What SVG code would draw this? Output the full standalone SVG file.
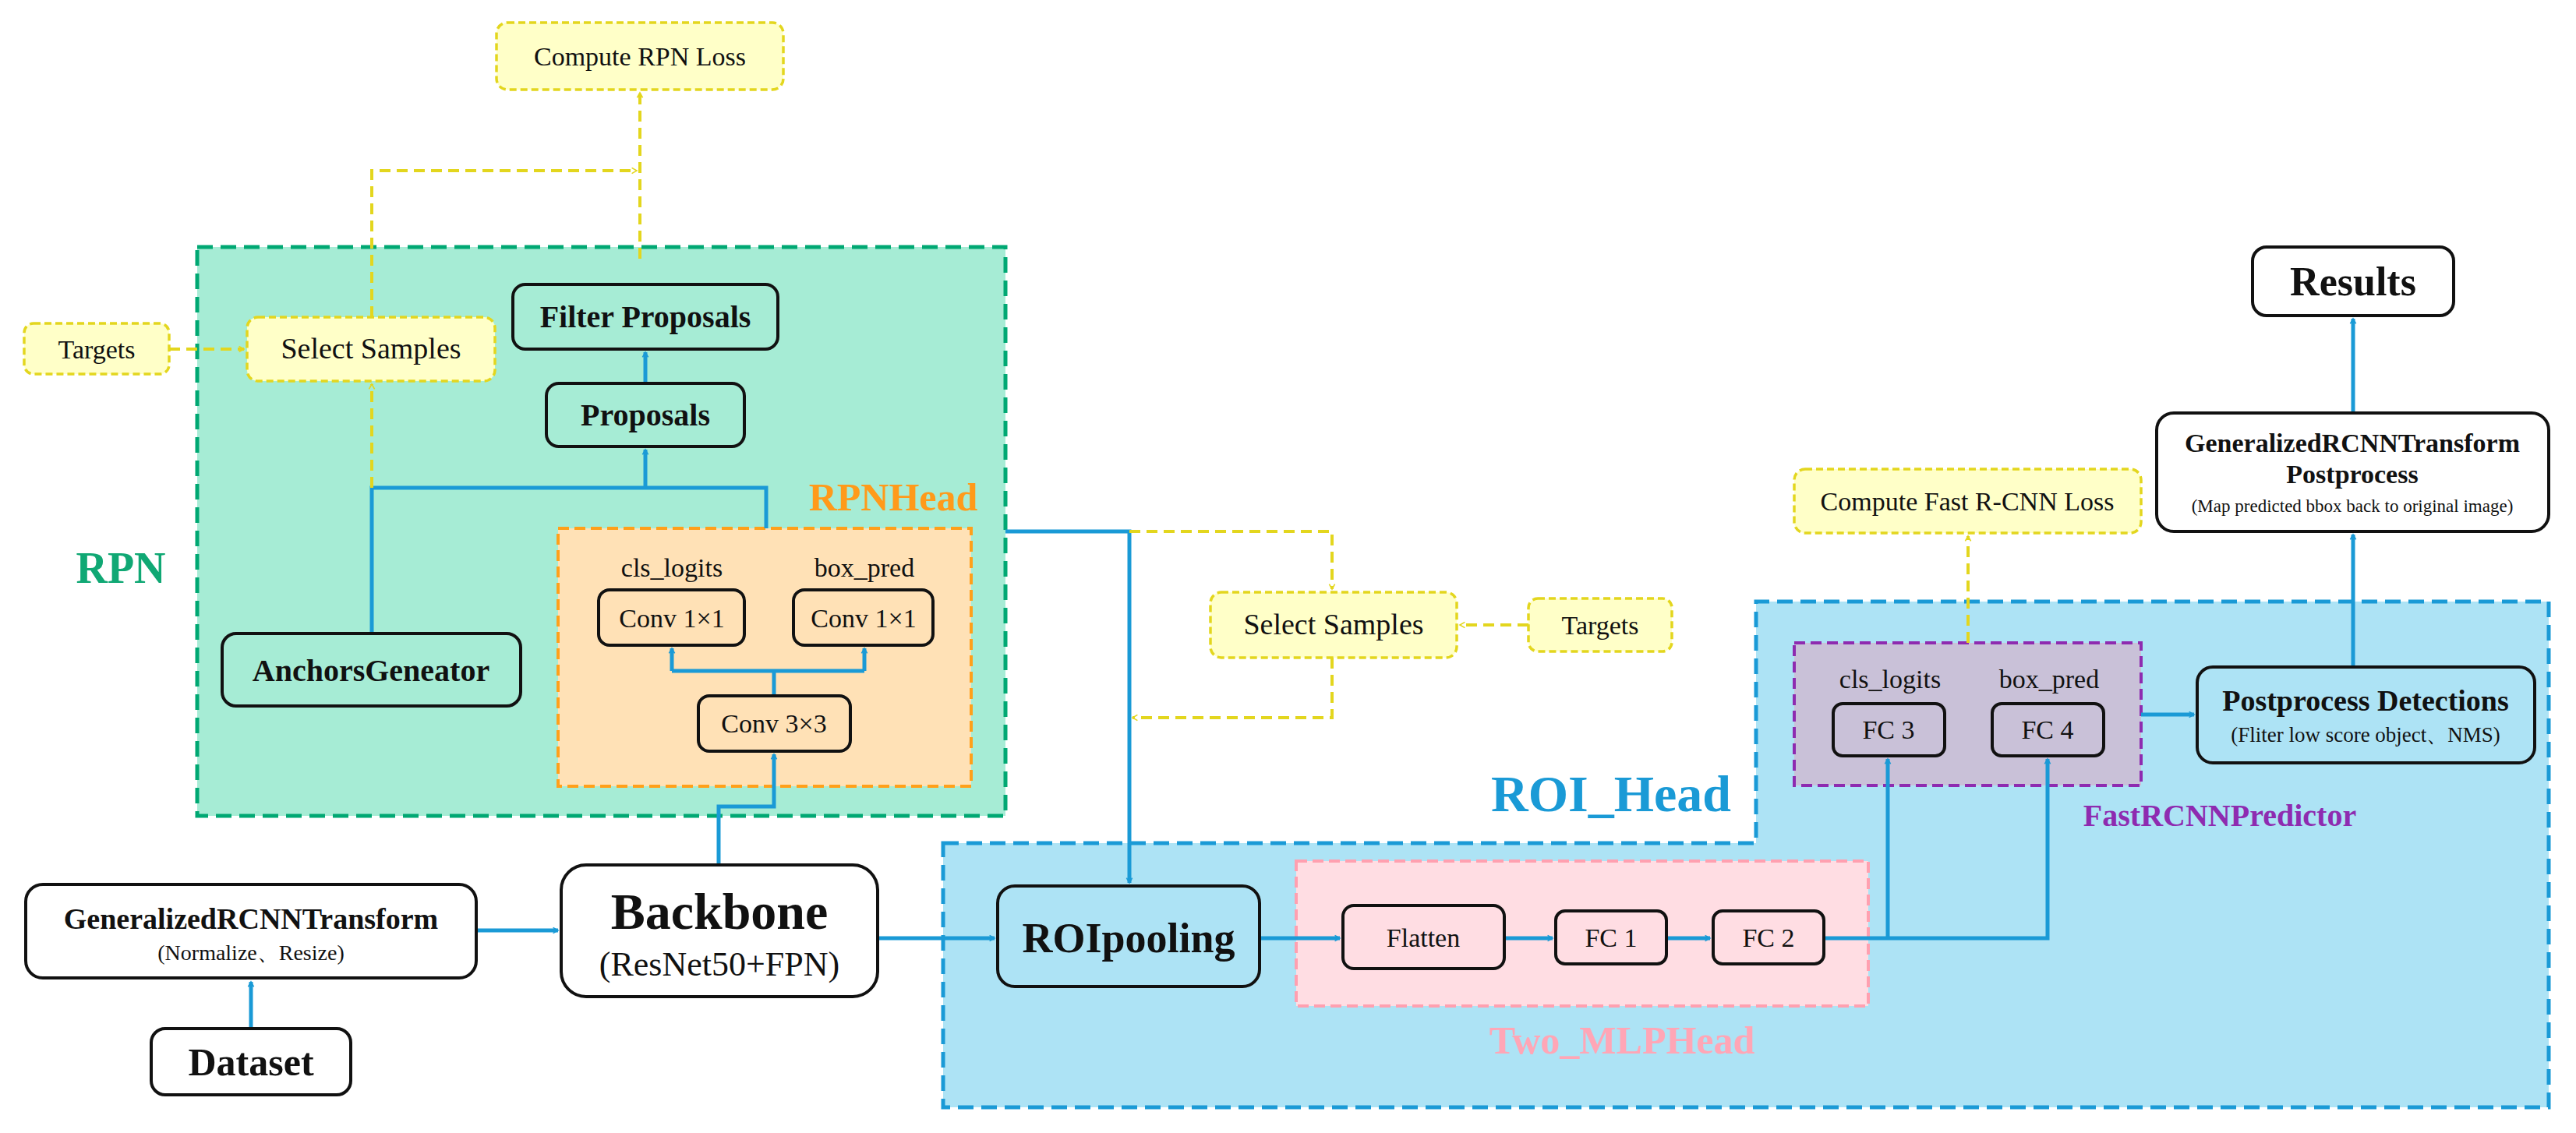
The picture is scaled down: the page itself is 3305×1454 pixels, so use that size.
<svg xmlns="http://www.w3.org/2000/svg" width="3305" height="1454" viewBox="0 0 3305 1454">
<style>
text{font-family:"Liberation Serif","Times New Roman",serif;fill:#111;text-anchor:middle}
.b{font-weight:bold}
.n{fill:none;stroke:#111;stroke-width:4}
.y{fill:#ffffc8;stroke:#e3d61e;stroke-width:3.5;stroke-dasharray:9 5}
.bl{fill:none;stroke:#1a9ad6;stroke-width:5}
.yl{fill:none;stroke:#e3d61e;stroke-width:4;stroke-dasharray:14 8}
</style>
<defs>
<marker id="ab" viewBox="0 0 20 20" refX="18" refY="10" markerWidth="8" markerHeight="8" markerUnits="userSpaceOnUse" orient="auto" style="overflow:visible">
<path d="M2 1 L18 10 L2 19" fill="none" stroke="#1a9ad6" stroke-width="4"/>
</marker>
<marker id="ay" viewBox="0 0 20 20" refX="18" refY="10" markerWidth="8" markerHeight="8" markerUnits="userSpaceOnUse" orient="auto" style="overflow:visible">
<path d="M2 1 L18 10 L2 19" fill="none" stroke="#e3d61e" stroke-width="4"/>
</marker>
</defs>
<!-- containers -->
<g id="rpn">
<rect x="253" y="317" width="1037" height="730" fill="#a6ecd5" stroke="#00a873" stroke-width="5" stroke-dasharray="20 10"/>
<text x="155" y="748" font-size="56" class="b" style="fill:#10a874">RPN</text>
</g>
<g id="rpnhead">
<rect x="716" y="678" width="530" height="331" fill="#ffe1b6" stroke="#ffa01a" stroke-width="4" stroke-dasharray="14 7"/>
<text x="1146" y="655" font-size="50" class="b" style="fill:#ff9a1a">RPNHead</text>
</g>
<g id="roihead">
<path d="M1210 1082 H2253 V772 H3270 V1421 H1210 Z" fill="#ade3f5" stroke="#1a9ad6" stroke-width="5" stroke-dasharray="20 10"/>
<text x="2067" y="1041" font-size="66" class="b" style="fill:#1a9ad6">ROI_Head</text>
</g>
<g id="twomlp">
<rect x="1663" y="1105" width="734" height="186" fill="#ffdde3" stroke="#ffa0b0" stroke-width="4" stroke-dasharray="14 7"/>
<text x="2081" y="1352" font-size="50" class="b" style="fill:#ffa6b6">Two_MLPHead</text>
</g>
<g id="fastrcnn">
<rect x="2302" y="825" width="445" height="183" fill="#c9c1d8" stroke="#8e2bb0" stroke-width="4" stroke-dasharray="14 7"/>
<text x="2848" y="1060" font-size="40" class="b" style="fill:#8e2bb0">FastRCNNPredictor</text>
</g>
<!-- connectors -->
<g id="connectors">
<path class="bl" d="M322 1320 V1260" marker-end="url(#ab)"/>
<path class="bl" d="M611 1194 H716" marker-end="url(#ab)"/>
<path class="bl" d="M922 1110 V1035 H993 V968" marker-end="url(#ab)"/>
<path class="bl" d="M993 893 V861 M862 861 H1109"/>
<path class="bl" d="M862 861 V832" marker-end="url(#ab)"/>
<path class="bl" d="M1109 861 V832" marker-end="url(#ab)"/>
<path class="bl" d="M477 813 V626 H983 V678"/>
<path class="bl" d="M828 626 V577" marker-end="url(#ab)"/>
<path class="bl" d="M828 492 V452" marker-end="url(#ab)"/>
<path class="yl" d="M477 626 V493" marker-end="url(#ay)"/>
<path class="yl" d="M217 448 H313" marker-end="url(#ay)"/>
<path class="yl" d="M477 407 V219 H817" marker-end="url(#ay)"/>
<path class="yl" d="M821 332 V119" marker-end="url(#ay)"/>
<path class="bl" d="M1290 682 H1449 V1133" marker-end="url(#ab)"/>
<path class="yl" d="M1449 682 H1709 V756" marker-end="url(#ay)"/>
<path class="yl" d="M1961 802 H1873" marker-end="url(#ay)"/>
<path class="yl" d="M1709 844 V921 H1453" marker-end="url(#ay)"/>
<path class="bl" d="M1126 1204 H1276" marker-end="url(#ab)"/>
<path class="bl" d="M1616 1204 H1719" marker-end="url(#ab)"/>
<path class="bl" d="M1930 1204 H1992" marker-end="url(#ab)"/>
<path class="bl" d="M2138 1204 H2194" marker-end="url(#ab)"/>
<path class="bl" d="M2340 1204 H2627 V974" marker-end="url(#ab)"/>
<path class="bl" d="M2422 1204 V974" marker-end="url(#ab)"/>
<path class="yl" d="M2525 825 V688" marker-end="url(#ay)"/>
<path class="bl" d="M2747 917 H2815" marker-end="url(#ab)"/>
<path class="bl" d="M3019 856 V686" marker-end="url(#ab)"/>
<path class="bl" d="M3019 530 V409" marker-end="url(#ab)"/>
</g>
<!-- nodes -->
<g id="computeRpnLoss"><rect class="y" x="637" y="29" width="368" height="86" rx="14"/><text x="821" y="84" font-size="34">Compute RPN Loss</text></g>
<g id="targets1"><rect class="y" x="31" y="415" width="186" height="65" rx="12"/><text x="124" y="460" font-size="34">Targets</text></g>
<g id="selectSamples1"><rect class="y" x="317" y="407" width="318" height="82" rx="14"/><text x="476" y="460" font-size="38">Select Samples</text></g>
<g id="filterProposals"><rect class="n" fill="#a6ecd5" x="658" y="365" width="340" height="83" rx="16" style="fill:#a6ecd5"/><text x="828" y="420" font-size="40" class="b">Filter Proposals</text></g>
<g id="proposals"><rect class="n" x="701" y="492" width="254" height="81" rx="16" style="fill:#a6ecd5"/><text x="828" y="546" font-size="40" class="b">Proposals</text></g>
<g id="anchors"><rect class="n" x="285" y="813" width="383" height="93" rx="18" style="fill:#a6ecd5"/><text x="476" y="874" font-size="40" class="b">AnchorsGeneator</text></g>
<g id="conv1"><text x="862" y="740" font-size="34">cls_logits</text><rect class="n" x="768" y="757" width="187" height="71" rx="14"/><text x="862" y="805" font-size="34">Conv 1×1</text></g>
<g id="conv2"><text x="1109" y="740" font-size="34">box_pred</text><rect class="n" x="1018" y="757" width="179" height="71" rx="14"/><text x="1108" y="805" font-size="34">Conv 1×1</text></g>
<g id="conv3"><rect class="n" x="896" y="893" width="195" height="71" rx="14"/><text x="993" y="940" font-size="34">Conv 3×3</text></g>
<g id="genTransform"><rect class="n" x="33" y="1135" width="578" height="120" rx="22" style="fill:#fff"/><text x="322" y="1192" font-size="38" class="b">GeneralizedRCNNTransform</text><text x="322" y="1232" font-size="28">(Normalize、Resize)</text></g>
<g id="dataset"><rect class="n" x="194" y="1320" width="256" height="85" rx="18" style="fill:#fff"/><text x="322" y="1380" font-size="50" class="b">Dataset</text></g>
<g id="backbone"><rect class="n" x="720" y="1110" width="406" height="169" rx="32" style="fill:#fff"/><text x="923" y="1192" font-size="66" class="b">Backbone</text><text x="923" y="1252" font-size="44">(ResNet50+FPN)</text></g>
<g id="selectSamples2"><rect class="y" x="1553" y="760" width="316" height="84" rx="14"/><text x="1711" y="814" font-size="38">Select Samples</text></g>
<g id="targets2"><rect class="y" x="1961" y="768" width="184" height="68" rx="12"/><text x="2053" y="814" font-size="34">Targets</text></g>
<g id="roipooling"><rect class="n" x="1280" y="1137" width="336" height="129" rx="22" style="fill:#ade3f5"/><text x="1448" y="1222" font-size="54" class="b">ROIpooling</text></g>
<g id="flatten"><rect class="n" x="1723" y="1162" width="207" height="81" rx="14"/><text x="1826" y="1215" font-size="34">Flatten</text></g>
<g id="fc1"><rect class="n" x="1996" y="1169" width="142" height="68" rx="12"/><text x="2067" y="1215" font-size="34">FC 1</text></g>
<g id="fc2"><rect class="n" x="2198" y="1169" width="142" height="68" rx="12"/><text x="2269" y="1215" font-size="34">FC 2</text></g>
<g id="fc3"><text x="2425" y="883" font-size="34">cls_logits</text><rect class="n" x="2352" y="903" width="143" height="67" rx="12"/><text x="2423" y="948" font-size="34">FC 3</text></g>
<g id="fc4"><text x="2629" y="883" font-size="34">box_pred</text><rect class="n" x="2556" y="903" width="143" height="67" rx="12"/><text x="2627" y="948" font-size="34">FC 4</text></g>
<g id="computeFastLoss"><rect class="y" x="2302" y="602" width="445" height="82" rx="14"/><text x="2524" y="655" font-size="34">Compute Fast R-CNN Loss</text></g>
<g id="postDetections"><rect class="n" x="2819" y="856" width="433" height="123" rx="20" style="fill:#ade3f5"/><text x="3035" y="912" font-size="38" class="b">Postprocess Detections</text><text x="3035" y="952" font-size="27">(Fliter low score object、NMS)</text></g>
<g id="postTransform"><rect class="n" x="2767" y="530" width="503" height="152" rx="22" style="fill:#fff"/><text x="3018" y="580" font-size="34" class="b">GeneralizedRCNNTransform</text><text x="3018" y="620" font-size="34" class="b">Postprocess</text><text x="3018" y="657" font-size="23">(Map predicted bbox back to original image)</text></g>
<g id="results"><rect class="n" x="2890" y="317" width="258" height="88" rx="18" style="fill:#fff"/><text x="3019" y="379" font-size="52" class="b">Results</text></g>
</svg>
